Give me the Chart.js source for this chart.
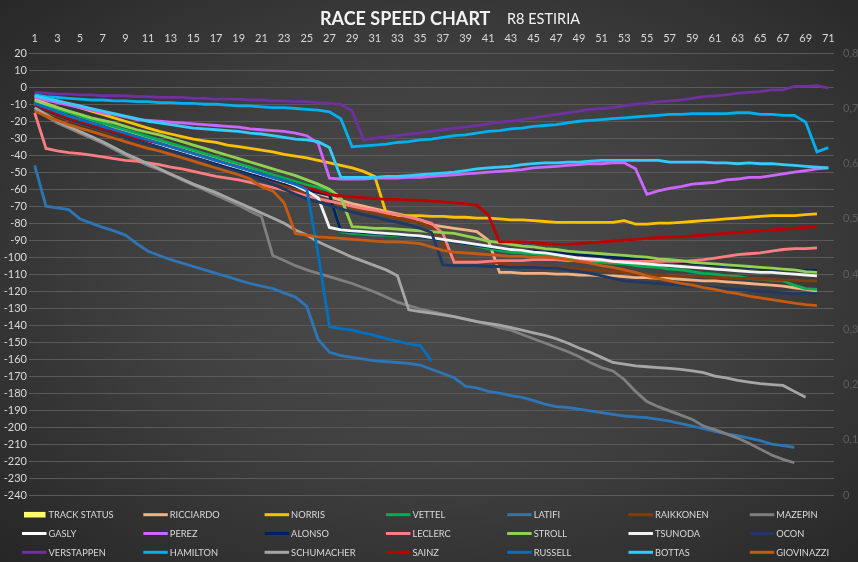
<!DOCTYPE html>
<html>
<head>
<meta charset="utf-8">
<script src="https://cdn.jsdelivr.net/npm/chart.js@4/dist/chart.umd.min.js"></script>
<style>
  html, body { margin: 0; padding: 0; }
  body {
    width: 858px; height: 562px; overflow: hidden;
    background: radial-gradient(ellipse farthest-corner at 52% 48%, #4c4c4c 0%, #414141 45%, #262626 100%);
  }
  #wrap { position: relative; width: 858px; height: 562px; }
</style>
</head>
<body>
<div id="wrap"><canvas id="myChart" width="858" height="562"></canvas></div>
<script>
// laps 1..71
const laps = ['1','2','3','4','5','6','7','8','9','10','11','12','13','14','15','16','17','18','19','20',
  '21','22','23','24','25','26','27','28','29','30','31','32','33','34','35','36','37','38','39','40',
  '41','42','43','44','45','46','47','48','49','50','51','52','53','54','55','56','57','58','59','60',
  '61','62','63','64','65','66','67','68','69','70','71'];

const rightTicks = [0, 0.1, 0.2, 0.3, 0.4, 0.5, 0.6, 0.7, 0.8];

const trackStatus = [];

const ricciardo = [-7,-9.5,-12,-14.5,-17,-19,-21,-23.5,-25.5,-27.5,-29.5,-31.5,-33.5,-35.5,-37.5,-39.5,-41.5,-43.5,-45.5,-47.5,
  -49.5,-52,-54.5,-57,-60,-62.5,-64.5,-66.5,-68.5,-70,-71.5,-73,-74.5,-76,-78,-81,-82,-83,-84,-85,
  -90,-109,-109,-109.5,-109.5,-109.5,-110,-110,-110.5,-110.5,-111,-111,-111.5,-112,-112,-112.5,-112.5,-113,-113.5,-114,
  -114,-114.5,-115,-115.5,-116,-116.5,-117,-118,-119,-120];

const norris = [-5,-6.5,-8,-10,-12,-14,-16,-18,-20,-22,-24,-26,-27.5,-29,-30.5,-31.5,-32.5,-34,-35,-36,
  -37,-38,-39.5,-40.5,-41.5,-43,-44.5,-46,-47.5,-49.5,-52.5,-74,-75.5,-75.5,-75.5,-76,-76,-76.5,-76.5,-77,
  -77,-77.5,-78,-78,-78.5,-79,-79.5,-79.5,-79.5,-79.5,-79.5,-79.5,-78.5,-80.5,-80.5,-80,-80,-79.5,-79,-78.5,
  -78,-77.5,-77,-76.5,-76,-75.5,-75.5,-75.5,-75,-74.5];

const vettel = [-9,-11,-13,-15,-17,-19,-21,-23,-25,-27,-29,-31,-33,-35,-37,-39,-41,-43,-45,-47,
  -49.5,-51.5,-53.5,-55.5,-57.5,-59,-61,-85,-86,-86.5,-87,-87,-87.5,-87.5,-88,-89,-90,-91,-92,-93.5,
  -95,-96,-97,-97.5,-98,-99,-99.5,-100.5,-101.5,-102.5,-103,-103.5,-104,-105,-105.5,-106,-107,-107.5,-108.5,-109.5,
  -110,-111,-111.5,-112.5,-113,-113.5,-114,-116.5,-118.5,-119];

const latifi = [-46,-70,-71,-72,-77.5,-80,-82.5,-84.5,-87,-92,-96.5,-99,-101.5,-103.5,-105.5,-107.5,-109.5,-111.5,-113.5,-115.5,
  -117,-118.5,-121,-123.5,-129,-148.5,-156,-158,-159,-160,-161,-161.5,-162,-162.5,-163.5,-166,-168.5,-171,-176,-177,
  -179,-180,-181.5,-182.5,-184.5,-186.5,-188,-188.5,-189.5,-190.5,-191.5,-192.5,-193.5,-194,-194.5,-195.5,-196.5,-198,-199.5,-201,
  -202.5,-204,-205,-206.5,-208,-210,-211,-212];

const raikkonen = [-12,-14.5,-17,-19.5,-21.5,-23.5,-25.5,-27.5,-29.5,-31.5,-33.5,-35.5,-37.5,-39.5,-41.5,-43.5,-45.5,-47.5,-49.5,-51.5,
  -53.5,-55.5,-58,-60.5,-63,-65.5,-67.5,-69.5,-71,-72.5,-74,-75.5,-77,-78.5,-80,-82,-92,-101,-102,-102.5,
  -103,-103.5,-104,-104.5,-105,-105.5,-106,-106.5,-107,-107.5,-108,-108.5,-109,-109.5,-110,-110.5,-111,-111,-111.5,-111.5,
  -112,-112,-112.5,-112.5,-113,-113,-113.5,-113.5,-114,-114];

const mazepin = [-13,-17,-21,-24,-27,-30,-33,-36.5,-40,-43,-46,-48.5,-51.5,-54.5,-57.5,-60.5,-63.5,-66.5,-69.5,-73,
  -76,-99,-102,-105,-107.5,-109.5,-111.5,-113.5,-115.5,-118,-120.5,-123.5,-126.5,-128.5,-130.5,-132,-133.5,-135,-136.5,-138,
  -139.5,-141.5,-143,-145.5,-148,-150.5,-153,-155.5,-158.5,-162,-165,-167,-172,-179,-185,-188,-190.5,-193,-195.5,-199.5,
  -201.5,-204,-206.5,-209.5,-213,-216.5,-219,-221];

const gasly = [-12];

const perez = [-6,-7.5,-9,-10.5,-12,-13.5,-15,-16,-17.5,-19,-19.5,-20,-20.5,-21,-21.5,-22,-22.5,-23,-23.5,-24.5,
  -25,-25.5,-26,-27,-28.5,-33,-53.5,-54,-54,-54,-53.5,-53.5,-53.5,-53,-53,-52.5,-52,-51.5,-51,-50.5,
  -50,-49.5,-49,-48.5,-47.5,-47,-46.5,-46,-45.5,-45,-45,-44.5,-44.5,-48,-63,-61,-59.5,-58.5,-57,-56.5,
  -56,-54.5,-54,-53,-53,-52,-51,-50,-49,-48,-47.5];

const alonso = [-11.5,-13.5,-16,-18.5,-20.5,-22.5,-24.5,-26.5,-28.5,-30.5,-32.5,-34.5,-36.5,-38.5,-40.5,-42.5,-44.5,-46.5,-48.5,-50.5,
  -52.5,-54.5,-56.5,-58.5,-60.5,-62,-63.5,-84.5,-85,-85.5,-86,-86.5,-87,-87.5,-88,-89,-90,-91,-92,-93,
  -94,-95,-95.5,-96,-96.5,-97,-97.5,-98,-98.5,-99,-99.5,-100,-100.5,-101,-101.5,-102,-102.5,-103,-103.5,-104,
  -104.5,-105,-105.5,-106,-106.5,-107,-107,-107.5,-108,-108];

const leclerc = [-15,-36,-37.5,-38.5,-39,-40,-41,-42,-43,-43.5,-44.5,-45.5,-47,-48,-49.5,-51,-52.5,-53.5,-54.5,-56,
  -57.5,-59,-60.5,-62,-64,-65.5,-67,-68.5,-70,-71.5,-72.5,-74,-75,-76.5,-78,-80,-86,-103,-103,-103,
  -102.5,-102,-102,-102,-101.5,-101.5,-101.5,-102,-102,-102,-102,-102.5,-102.5,-102.5,-102.5,-102.5,-102.5,-102.5,-102,-101.5,
  -100.5,-99.5,-98.5,-98,-97.5,-96.5,-95.5,-95,-95,-94.5];

const stroll = [-8,-10,-12,-14,-16,-18,-19.5,-21,-23,-25,-26.5,-28,-30,-32,-34,-36,-38,-40,-42,-44,
  -46,-48,-50,-52,-54.5,-57,-60,-65,-82,-82.5,-83,-83,-83.5,-84,-84.5,-85,-85.5,-86,-87.5,-89,
  -90.5,-91.5,-92.5,-93.5,-94,-95,-95.5,-96.5,-97,-97.5,-98,-98.5,-99,-99.5,-100,-101,-101.5,-102,-103,-103.5,
  -104,-104.5,-105,-105.5,-106,-106.5,-107,-107.5,-108.5,-109];

const tsunoda = [-10,-12.5,-15,-17.5,-19.5,-21.5,-23.5,-25.5,-27.5,-29.5,-31.5,-33.5,-35.5,-37.5,-39.5,-41.5,-43.5,-45.5,-47.5,-49.5,
  -51.5,-53.5,-55.5,-58,-61,-65,-82.5,-84,-84.5,-85,-85.5,-86,-86.5,-87,-87.5,-88.5,-89.5,-90.5,-91.5,-92.5,
  -93.5,-94.5,-95.5,-96,-97,-97.5,-98.5,-99.5,-100.5,-101,-101.5,-102.5,-103,-103.5,-104,-104.5,-105,-105.5,-106,-106.5,
  -107,-107.5,-108,-108.5,-109,-109,-109.5,-110,-110.5,-111];

const ocon = [-11,-13.5,-16,-18.5,-21,-23,-25,-27,-29.5,-31.5,-33.5,-35.5,-37.5,-39.5,-41.5,-43.5,-46,-48,-50,-52,
  -54.5,-57,-60,-63,-65.5,-67.5,-69.5,-71.5,-73.5,-75,-76.5,-78,-79.5,-81,-83,-85.5,-104.5,-105,-105,-105,
  -105.5,-105.5,-106,-106,-106,-106.5,-106.5,-107.5,-108.5,-109.5,-111,-112.5,-114,-114.5,-115,-115.5,-116,-116.5,-117,-117.5,
  -118,-118.5,-119,-119.5,-120,-120.5,-121,-121.5,-121.5,-121.5];

const verstappen = [-3,-3.5,-4,-4,-4.5,-4.5,-5,-5,-5,-5.5,-5.5,-6,-6,-6,-6.5,-6.5,-7,-7,-7,-7.5,
  -7.5,-8,-8,-8.5,-8.5,-9,-9.5,-10,-14,-31,-30,-29,-28.5,-27.5,-27,-26,-25,-24,-23.5,-22.5,
  -21.5,-20.5,-20,-19,-18,-17,-16,-15,-14,-13,-12.5,-12,-11,-10,-9.5,-8.5,-8,-7.5,-6.5,-5.5,
  -5,-4.5,-3.5,-3,-2.5,-1.5,-1.5,0.5,0.5,1,-0.5];

const hamilton = [-4.5,-5.5,-6,-6.5,-7,-7.5,-7.5,-8,-8,-8.5,-8.5,-9,-9,-9.5,-9.5,-10,-10,-10.5,-11,-11,
  -11.5,-12,-12,-12.5,-13,-13.5,-14.5,-18.5,-35,-34.5,-34,-33.5,-32.5,-32,-31,-30.5,-29.5,-28.5,-28,-27,
  -26,-25.5,-24.5,-24,-23,-22.5,-22,-21,-20,-19.5,-19,-18.5,-18,-17.5,-17,-16.5,-16,-16,-15.5,-15.5,
  -15.5,-15.5,-15,-15,-16,-16,-16.5,-16.5,-20.5,-38,-35.5];

const schumacher = [-12,-16,-20,-23,-26,-29,-32,-35.5,-39,-42,-45,-48,-51,-54,-57,-59.5,-62,-65,-68,-71,
  -74,-77,-80,-84,-87,-91,-94,-97,-100,-102.5,-105,-107.5,-111,-131,-132,-133,-134,-135,-136.5,-138,
  -139,-140,-141.5,-143,-144.5,-146,-148,-150.5,-153.5,-156,-159,-162,-163,-164,-164.5,-165,-165.5,-166,-167,-168,
  -170,-171,-172.5,-173.5,-174.5,-175,-175.5,-179,-182.5];

const sainz = [-10,-13,-15.5,-18,-20,-22,-24,-26,-28,-30,-31.5,-33,-35,-37,-39,-41,-43,-45,-47,-49,
  -51,-53,-55,-57,-59,-61,-63,-64,-64.5,-65,-65.5,-66,-66,-66.5,-66.5,-67,-67.5,-68,-68.5,-69.5,
  -75,-91,-91,-91,-91.5,-92,-92.5,-92.5,-92,-91.5,-91,-90.5,-90,-89.5,-89,-88.5,-88,-88,-87.5,-87,
  -86.5,-86,-85.5,-85,-84.5,-84,-83.5,-83,-82.5,-82];

const russell = [-9.5,-12,-14.5,-17,-19,-21,-23,-25,-27,-29,-31,-33,-35,-37,-39,-41,-43,-45,-47,-49,
  -51,-53,-55,-57,-60,-98,-141,-142,-143,-144.5,-146,-148,-149.5,-151,-152,-161];

const bottas = [-5,-6.5,-8,-9.5,-11,-12.5,-14,-15.5,-17,-18.5,-20,-21,-22,-23,-24,-24.5,-25,-25.5,-26,-27,
  -27.5,-28.5,-29.5,-30.5,-31,-32,-35.5,-53,-53,-53,-53,-52.5,-52.5,-52,-51.5,-51,-50.5,-50,-49,-48,
  -47.5,-47,-46.5,-45.5,-45,-44.5,-44.5,-44,-44,-43.5,-43,-43,-43,-43,-43,-43,-44,-44,-44,-44,
  -44.5,-44.5,-45,-44.5,-45,-45,-45.5,-46,-46.5,-47,-47.5];

const giovinazzi = [-14,-17,-19.5,-22,-24,-26,-28,-30,-32,-34,-36,-37.5,-39.5,-41.5,-43.5,-45.5,-47.5,-49.5,-51.5,-54,
  -58.5,-61,-68,-86,-87,-88,-88.5,-89,-89.5,-90,-90.5,-91,-91,-91.5,-92,-94,-96,-97,-97.5,-98,
  -98.5,-99,-99.5,-99.5,-100,-100,-100.5,-101.5,-102.5,-103.5,-105,-106,-107.5,-109,-111,-112.5,-114,-115.5,-116.5,-118,
  -119,-120.5,-121.5,-123,-124,-125,-126,-127,-128,-128.5];

const series = [
  ['TRACK STATUS', trackStatus, '#FFFF66'],
  ['RICCIARDO', ricciardo, '#F4B183'],
  ['NORRIS', norris, '#FFC000'],
  ['VETTEL', vettel, '#00B050'],
  ['LATIFI', latifi, '#2E75B6'],
  ['RAIKKONEN', raikkonen, '#843C0C'],
  ['MAZEPIN', mazepin, '#7F7F7F'],
  ['GASLY', gasly, '#FFFFFF'],
  ['PEREZ', perez, '#CC66FF'],
  ['ALONSO', alonso, '#002060'],
  ['LECLERC', leclerc, '#FF7C80'],
  ['STROLL', stroll, '#92D050'],
  ['TSUNODA', tsunoda, '#F2F2F2'],
  ['OCON', ocon, '#1F3864'],
  ['VERSTAPPEN', verstappen, '#7030A0'],
  ['HAMILTON', hamilton, '#00B0F0'],
  ['SCHUMACHER', schumacher, '#A6A6A6'],
  ['SAINZ', sainz, '#C00000'],
  ['RUSSELL', russell, '#0070C0'],
  ['BOTTAS', bottas, '#33CCFF'],
  ['GIOVINAZZI', giovinazzi, '#C55A11']
];

const datasets = series.map(([name, vals, color], i) => {
  if (i === 0) {
    return { type: 'bar', label: name, data: vals, backgroundColor: color, yAxisID: 'y2', order: 100 };
  }
  return {
    type: 'line', label: name, data: vals, borderColor: color, backgroundColor: color,
    borderWidth: 2.8, pointRadius: 0, tension: 0, yAxisID: 'y', order: series.length - i
  };
});

// title + grid legend drawn on the canvas
const decorations = {
  id: 'decorations',
  afterDraw(chart) {
    const ctx = chart.ctx;
    ctx.save();
    ctx.textBaseline = 'alphabetic';
    ctx.fillStyle = '#F2F2F2';
    ctx.font = 'bold 18px Lato';
    ctx.fillText('RACE SPEED CHART', 320, 25);
    ctx.font = '14.5px Lato';
    ctx.fillText('R8 ESTIRIA', 507, 24);

    ctx.textBaseline = 'middle';
    ctx.font = '9.3px Lato';
    chart.data.datasets.forEach((ds, i) => {
      const col = i % 7, row = Math.floor(i / 7);
      const x = 22 + col * 121.3, y = 514.7 + row * 18.8;
      if (ds.type === 'bar') {
        ctx.fillStyle = ds.backgroundColor;
        ctx.fillRect(x + 2, y - 2.8, 21.5, 5.6);
      } else {
        ctx.strokeStyle = ds.borderColor;
        ctx.lineWidth = 3;
        ctx.beginPath();
        ctx.moveTo(x, y);
        ctx.lineTo(x + 24.5, y);
        ctx.stroke();
      }
      ctx.fillStyle = '#D9D9D9';
      ctx.fillText(ds.label, x + 26.5, y + 0.5);
    });
    ctx.restore();
  }
};

new Chart(document.getElementById('myChart'), {
  data: { labels: laps, datasets: datasets },
  options: {
    responsive: false,
    animation: false,
    layout: { padding: { top: 0, left: 0, right: 0, bottom: 67 } },
    plugins: { legend: { display: false }, tooltip: { enabled: false } },
    scales: {
      x: {
        position: 'top',
        offset: true,
        grid: { display: false, drawTicks: false },
        border: { display: false },
        ticks: {
          autoSkip: false, maxRotation: 0, color: '#D9D9D9', font: { family: 'Lato', size: 11 }, padding: 8,
          callback: (v, i) => (i % 2 === 0 ? laps[i] : '')
        },
        afterFit: s => { s.height = 53.3; }
      },
      y: {
        position: 'left',
        min: -240, max: 20,
        grid: { color: '#5A5A5A', lineWidth: 1, drawTicks: false },
        border: { display: false },
        ticks: { stepSize: 10, color: '#D9D9D9', font: { family: 'Lato', size: 11 }, padding: 2 },
        afterFit: s => { s.width = 29; }
      },
      y2: {
        position: 'right',
        min: 0, max: 0.8,
        afterBuildTicks: s => { s.ticks = rightTicks.map(v => ({ value: v })); },
        grid: { display: false, drawTicks: false },
        border: { display: false },
        ticks: {
          color: '#5E5E5E', font: { family: 'Lato', size: 11 }, padding: 9,
          callback: v => (v === 0 ? '0' : v.toFixed(1).replace('.', ','))
        },
        afterFit: s => { s.width = 24; }
      }
    }
  },
  plugins: [decorations]
});
</script>
</body>
</html>
